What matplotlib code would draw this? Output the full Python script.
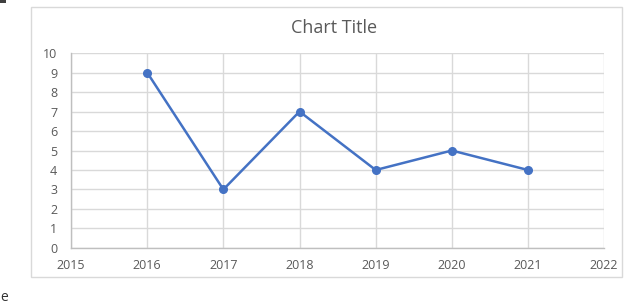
import matplotlib
matplotlib.use("Agg")
import matplotlib.pyplot as plt
from matplotlib.patches import Rectangle

years = [2016, 2017, 2018, 2019, 2020, 2021]
values = [9, 3, 7, 4, 5, 4]
x_ticks = [2015, 2016, 2017, 2018, 2019, 2020, 2021, 2022]
y_ticks = list(range(0, 11))

plt.rcParams['font.family'] = ['Open Sans', 'DejaVu Sans']
fig = plt.figure(figsize=(6.4, 3.05), dpi=100)
fig.patch.set_facecolor('white')

# outer chart border
fig.patches.append(Rectangle((0.048, 0.092), 0.924, 0.885, transform=fig.transFigure,
                             fill=False, edgecolor='#d9d9d9', linewidth=1.0))
# fragments at the edges of the screenshot
fig.patches.append(Rectangle((0.0, 0.99), 0.009, 0.01, transform=fig.transFigure,
                             facecolor='#404040', edgecolor='none'))
fig.text(0.0, 0.0, 'e', ha='left', va='bottom', fontsize=10, color='#333333')

ax = fig.add_axes([0.111, 0.187, 0.833, 0.639])
ax.plot(years, values, color='#4472C4', linewidth=1.8, marker='o', markersize=5.5, zorder=3)
ax.set_xlim(2015, 2022)
ax.set_ylim(0, 10)
ax.set_xticks(x_ticks)
ax.set_yticks(y_ticks)
ax.grid(True, color='#d9d9d9', linewidth=1.0)
ax.set_axisbelow(True)
for s in ['top', 'right']:
    ax.spines[s].set_visible(False)
for s in ['left', 'bottom']:
    ax.spines[s].set_color('#bfbfbf')
    ax.spines[s].set_linewidth(1.0)
ax.tick_params(length=0, labelsize=9, labelcolor='#595959')
ax.tick_params(axis='y', pad=10)
ax.tick_params(axis='x', pad=8)
fig.text(0.522, 0.908, 'Chart Title', ha='center', va='center', fontsize=13, color='#595959')

fig.savefig('out.png', dpi=100)
